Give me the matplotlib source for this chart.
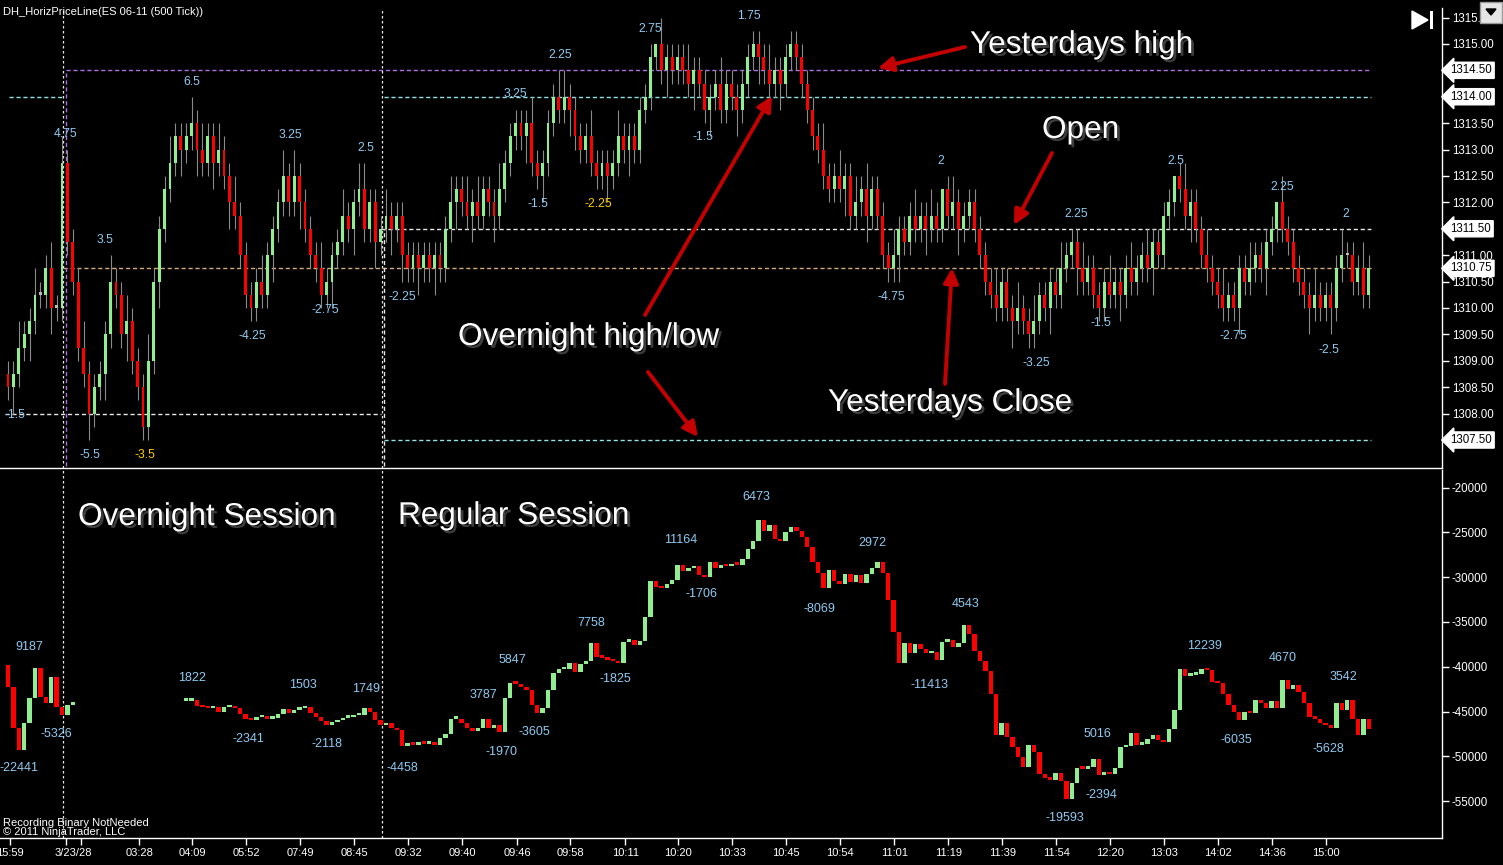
import numpy as np
import matplotlib
matplotlib.use("Agg")
import matplotlib.pyplot as plt
from matplotlib import patheffects
from matplotlib.patches import Polygon, Rectangle

plt.rcParams['font.family'] = ['Liberation Sans', 'DejaVu Sans']

W, H = 1503, 865

# ---------------- price panel: 500 tick bars (open = previous close) ----------------
first_open = 1308.75
closes = [
    1308.5, 1308.75, 1309.25, 1309.5, 1309.75, 1310.25, 1310.25, 1310.75, 1310.0, 1310.0,
    1312.75, 1311.25, 1310.5, 1309.25, 1308.75, 1308.0, 1308.5, 1308.75, 1309.5, 1310.5,
    1310.25, 1309.5, 1309.75, 1309.0, 1308.5, 1307.75, 1309.0, 1310.5, 1311.5, 1312.25,
    1312.75, 1313.25, 1313.0, 1313.25, 1313.5, 1313.0, 1312.75, 1313.25, 1312.75, 1313.0,
    1312.5, 1312.0, 1311.75, 1311.0, 1310.25, 1310.0, 1310.5, 1310.25, 1311.0, 1311.5,
    1312.0, 1312.5, 1312.0, 1312.5, 1312.0, 1311.5, 1311.0, 1310.75, 1310.25, 1310.5,
    1311.0, 1311.25, 1311.75, 1311.5, 1312.0, 1312.25, 1311.5, 1312.0, 1311.25, 1311.5,
    1311.75, 1311.5, 1311.75, 1311.0, 1310.75, 1311.0, 1310.75, 1311.0, 1310.75, 1311.0,
    1310.75, 1311.5, 1312.0, 1312.25, 1312.0, 1311.75, 1312.0, 1311.75, 1312.25, 1312.0,
    1311.75, 1312.25, 1312.75, 1313.25, 1313.5, 1313.25, 1313.5, 1312.75, 1312.5, 1312.75,
    1313.5, 1314.0, 1313.75, 1314.0, 1313.75, 1313.25, 1313.0, 1313.25, 1312.75, 1312.5,
    1312.75, 1312.5, 1312.75, 1313.25, 1313.0, 1313.25, 1313.0, 1313.75, 1314.0, 1314.75,
    1315.0, 1314.5, 1314.75, 1314.5, 1314.75, 1314.5, 1314.25, 1314.5, 1314.25, 1313.75,
    1314.0, 1314.25, 1313.75, 1314.25, 1314.0, 1313.75, 1314.25, 1314.75, 1315.0, 1314.75,
    1314.5, 1314.25, 1314.5, 1314.25, 1314.75, 1315.0, 1314.75, 1314.25, 1313.75, 1313.25,
    1313.0, 1312.5, 1312.25, 1312.5, 1312.25, 1312.5, 1311.75, 1312.0, 1312.25, 1311.75,
    1312.25, 1311.75, 1311.0, 1310.75, 1311.0, 1311.5, 1311.25, 1311.75, 1311.5, 1311.75,
    1311.5, 1311.75, 1311.5, 1312.25, 1311.75, 1312.0, 1311.5, 1311.75, 1312.0, 1311.5,
    1311.0, 1310.5, 1310.25, 1310.0, 1310.5, 1310.0, 1309.75, 1310.0, 1309.75, 1309.5,
    1309.75, 1310.25, 1310.0, 1310.5, 1310.25, 1310.75, 1311.0, 1311.25, 1310.75, 1310.5,
    1310.75, 1310.25, 1310.0, 1310.5, 1310.25, 1310.5, 1310.25, 1310.75, 1310.5, 1310.75,
    1311.0, 1310.75, 1311.25, 1311.0, 1311.75, 1312.0, 1312.5, 1312.25, 1311.75, 1312.0,
    1311.5, 1311.0, 1310.75, 1310.5, 1310.25, 1310.0, 1310.25, 1310.0, 1310.75, 1310.5,
    1310.75, 1311.0, 1310.75, 1311.25, 1311.5, 1312.0, 1311.5, 1311.25, 1310.75, 1310.5,
    1310.25, 1310.0, 1310.25, 1310.0, 1310.25, 1310.0, 1310.75, 1311.0, 1311.0, 1310.5,
    1310.75, 1310.25, 1310.75,
]
# wick beyond body, in ticks (0.25)
up_wick = [
    1, 1, 2, 1, 1, 2, 1, 1, 2, 1,  2, 1, 1, 1, 2, 1, 1, 1, 1, 2,
    1, 1, 2, 1, 1, 1, 2, 1, 1, 1,  2, 1, 1, 1, 2, 1, 2, 1, 1, 2,
    1, 1, 2, 1, 1, 1, 1, 2, 1, 1,  1, 2, 1, 2, 1, 1, 1, 1, 2, 1,
    1, 1, 2, 1, 1, 2, 2, 1, 1, 1,  2, 1, 1, 1, 1, 1, 1, 1, 1, 1,
    1, 1, 2, 1, 1, 2, 1, 2, 1, 1,  1, 2, 1, 1, 1, 1, 1, 2, 1, 1,
    1, 1, 2, 2, 1, 1, 1, 1, 2, 1,  1, 1, 1, 2, 1, 1, 1, 1, 1, 1,
    0, 2, 1, 1, 1, 1, 2, 1, 1, 1,  1, 1, 2, 1, 1, 1, 1, 1, 1, 1,
    1, 2, 1, 1, 1, 1, 1, 1, 1, 1,  1, 2, 1, 1, 2, 1, 1, 2, 1, 2,
    1, 1, 1, 1, 2, 1, 1, 1, 2, 1,  1, 2, 1, 0, 1, 2, 1, 1, 1, 1,
    1, 1, 1, 2, 1, 1, 1, 2, 1, 1,  2, 1, 1, 1, 1, 2, 1, 1, 1, 2,
    1, 1, 1, 1, 2, 1, 1, 1, 2, 1,  1, 2, 1, 1, 1, 1, 0, 1, 2, 1,
    1, 1, 2, 1, 1, 2, 1, 1, 1, 1,  2, 1, 1, 1, 1, 0, 2, 1, 1, 1,
    1, 1, 2, 1, 1, 1, 1, 2, 1, 1,  1, 2, 1,
]
down_wick = [
    1, 2, 1, 1, 2, 1, 1, 1, 2, 1,  1, 1, 1, 1, 1, 2, 1, 1, 2, 1,
    1, 1, 2, 1, 1, 1, 1, 1, 2, 1,  1, 1, 2, 1, 1, 2, 1, 1, 2, 1,
    1, 2, 1, 1, 1, 1, 1, 1, 1, 2,  1, 1, 1, 1, 2, 1, 1, 1, 1, 1,
    2, 1, 1, 1, 2, 1, 1, 1, 2, 1,  1, 2, 1, 2, 1, 1, 2, 1, 1, 2,
    1, 1, 1, 2, 1, 1, 2, 1, 1, 1,  2, 1, 1, 1, 1, 1, 2, 1, 1, 2,
    1, 1, 1, 1, 2, 1, 1, 1, 1, 1,  1, 2, 1, 1, 1, 2, 1, 1, 1, 1,
    1, 1, 2, 1, 1, 1, 1, 2, 1, 1,  2, 1, 1, 1, 1, 2, 1, 1, 1, 2,
    1, 1, 1, 2, 1, 1, 1, 1, 1, 1,  1, 1, 1, 1, 1, 2, 1, 1, 1, 2,
    1, 1, 1, 1, 1, 2, 1, 1, 1, 1,  2, 1, 1, 1, 1, 1, 2, 1, 1, 1,
    1, 1, 1, 1, 1, 1, 2, 1, 1, 1,  1, 1, 1, 2, 1, 1, 1, 1, 2, 1,
    1, 1, 1, 1, 1, 1, 2, 1, 1, 1,  1, 1, 2, 1, 1, 1, 1, 1, 1, 2,
    1, 1, 1, 1, 1, 1, 1, 1, 2, 1,  1, 1, 1, 2, 1, 1, 1, 1, 1, 1,
    1, 2, 1, 1, 1, 2, 1, 1, 1, 1,  1, 1, 1,
]

# ---------------- lower panel: cumulative delta (thousands), gap where no data ----------------
delta_first_open = -39.8
delta = [
    -42.3, -46.8, -49.3, -46.3, -43.5, -40.1, -43.4, -44.0, -41.1, -44.5,
    -45.4, -44.3, -43.9, None, None, None, None, None, None, None,
    None, None, None, None, None, None, None, None, None, None,
    None, None, None, -43.8, -43.7, -44.4, -44.5, -44.6, -44.5, -45.0,
    -44.5, -44.4, -44.6, -45.3, -45.8, -46.0, -45.6, -45.6, -45.8, -45.7,
    -45.3, -44.7, -45.2, -44.8, -44.6, -44.5, -45.2, -45.6, -46.1, -46.5,
    -46.2, -46.0, -45.7, -45.6, -45.4, -45.4, -44.6, -45.0, -45.9, -46.5,
    -46.3, -46.8, -47.1, -48.9, -48.5, -48.7, -48.4, -48.6, -48.5, -48.7,
    -48.0, -47.5, -45.8, -45.8, -46.3, -46.8, -47.2, -46.8, -45.8, -46.8,
    -46.5, -47.3, -43.5, -41.8, -41.9, -42.3, -42.6, -44.3, -45.2, -44.6,
    -42.6, -40.7, -40.3, -40.2, -39.6, -40.6, -39.7, -39.4, -37.4, -38.9,
    -39.0, -39.2, -39.4, -39.6, -37.2, -37.0, -37.6, -37.1, -34.4, -30.4,
    -31.1, -31.2, -30.8, -30.3, -28.6, -29.3, -29.0, -28.7, -29.8, -30.0,
    -28.3, -29.0, -28.6, -28.8, -28.5, -28.6, -28.0, -26.9, -25.9, -23.6,
    -24.8, -24.2, -25.7, -26.0, -25.0, -24.4, -24.8, -25.5, -26.6, -28.3,
    -29.5, -31.2, -29.2, -30.4, -30.7, -29.6, -30.5, -29.8, -30.6, -29.6,
    -29.0, -28.3, -29.5, -32.5, -36.1, -39.6, -37.4, -38.5, -37.5, -38.0,
    -38.5, -38.4, -39.3, -37.2, -37.0, -37.8, -37.3, -35.3, -36.3, -38.2,
    -39.4, -40.5, -43.0, -47.6, -46.3, -47.9, -49.0, -50.1, -51.2, -48.7,
    -49.5, -52.0, -52.4, -52.6, -51.9, -52.8, -54.8, -53.0, -51.3, -51.4,
    -51.2, -50.3, -52.1, -51.8, -52.0, -51.3, -49.0, -48.8, -47.4, -48.7,
    -48.6, -48.1, -47.6, -48.2, -48.4, -46.9, -44.8, -40.3, -41.0, -40.9,
    -40.8, -40.3, -40.4, -41.7, -41.8, -43.0, -44.3, -45.0, -46.0, -45.0,
    -45.2, -43.7, -44.1, -44.6, -43.8, -44.6, -41.5, -42.5, -42.0, -42.8,
    -44.0, -45.6, -45.8, -46.3, -46.5, -46.8, -44.0, -44.8, -43.7, -45.8,
    -47.6, -45.8, -47.0,
]

# swing labels
top_lbl = ['4.75', '-1.5', '-5.5', '-3.5', '3.5', '6.5', '-4.25', '3.25', '-2.75', '2.5',
           '-2.25', '3.25', '-1.5', '2.25', '-2.25', '2.75', '-1.5', '1.75', '-4.75', '2',
           '-3.25', '2.25', '-1.5', '2.5', '-2.75', '2.25', '-2.5', '2']
top_lbl_bar = [10.6, 1.3, 15.2, 25.4, 18.0, 34.1, 45.2, 52.2, 58.7, 66.3,
               73.0, 93.9, 98.1, 102.2, 109.3, 118.9, 128.7, 137.2, 163.5, 172.8,
               190.4, 197.8, 202.4, 216.3, 227.0, 235.9, 244.6, 247.8]
top_lbl_price = [1313.30, 1307.97, 1307.22, 1307.22, 1311.29, 1314.28, 1309.47, 1313.28, 1309.96, 1313.03,
                 1310.21, 1314.05, 1311.97, 1314.79, 1311.97, 1315.28, 1313.24, 1315.53, 1310.21, 1312.78,
                 1308.96, 1311.78, 1309.72, 1312.78, 1309.47, 1312.29, 1309.20, 1311.78]
top_lbl_yellow = [3, 14]

bot_lbl = ['9187', '-22441', '-5326', '1822', '-2341', '1503', '-2118', '1749', '-4458', '3787',
           '-1970', '5847', '-3605', '7758', '-1825', '11164', '-1706', '6473', '-8069', '2972',
           '-11413', '4543', '5016', '-19593', '-2394', '12239', '-6035', '4670', '-5628', '3542']
bot_lbl_bar = [3.9, 2.0, 8.9, 34.1, 44.6, 54.6, 59.1, 66.3, 73.0, 88.0,
               91.3, 93.5, 97.4, 108.0, 112.4, 124.6, 128.5, 138.5, 150.2, 160.0,
               170.7, 177.4, 201.7, 195.7, 202.4, 221.5, 227.4, 236.1, 244.6, 247.4]
bot_lbl_val = [-37794, -51310, -47513, -41257, -48071, -42039, -48630, -42486, -51310, -43156,
               -49523, -39246, -47289, -35113, -41369, -25842, -31874, -21039, -33549, -26177,
               -42039, -32991, -47513, -56895, -54326, -37682, -48183, -39023, -49188, -41146]

# key price levels (tags on the price axis)
tag_prices = [1314.50, 1314.00, 1311.50, 1310.75, 1307.50]
price_ticks = [1308.0, 1308.5, 1309.0, 1309.5, 1310.0, 1310.5, 1311.0, 1311.5,
               1312.0, 1312.5, 1313.0, 1313.5, 1314.0, 1314.5, 1315.0, 1315.5]
delta_ticks = [-55000, -50000, -45000, -40000, -35000, -30000, -25000, -20000]

# time axis: the two session-break ticks share one overlapping label
x_tick_bar = [0.3, 10.7, 13.5, 24.3, 34.1, 44.1, 54.1, 64.1, 74.1, 84.1, 94.3, 104.1, 114.3,
              124.1, 134.1, 144.1, 154.1, 164.1, 174.1, 184.1, 194.1, 204.1, 214.1, 224.1, 234.1, 244.1]
x_tick_lbl = ['15:59', '', '', '03:28', '04:09', '05:52', '07:49', '08:45', '09:32', '09:40',
              '09:46', '09:58', '10:11', '10:20', '10:33', '10:45', '10:54', '11:01', '11:19', '11:39',
              '11:54', '12:20', '13:03', '14:02', '14:36', '15:00']
break_lbl_bar = 12.1
break_lbl = '3/23/28'

GREEN = '#90ee90'
RED = '#ff0000'
LBL = '#8ecbf2'

# ---------------- figure ----------------
fig = plt.figure(figsize=(W / 100, H / 100), dpi=100, facecolor='black')
ax1 = fig.add_axes([0, 1 - 468 / H, 1442 / W, 460 / H], facecolor='black')
ax2 = fig.add_axes([0, 1 - 838 / H, 1442 / W, 368 / H], facecolor='black')

for ax in (ax1, ax2):
    ax.set_xlim(-1.48, 265.56)
    for s in ('top', 'left'):
        ax.spines[s].set_visible(False)
    for s in ('right', 'bottom'):
        ax.spines[s].set_color('white')
        ax.spines[s].set_linewidth(1)
    ax.yaxis.tick_right()
    ax.tick_params(axis='y', colors='white', labelcolor='white', labelsize=8.3, length=5, width=1, pad=2)
ax1.set_ylim(1306.97, 1315.68)
ax2.set_ylim(-59130, -18020)
ax1.set_xticks([])
ax1.set_yticks(price_ticks)
ax1.set_yticklabels(['%.2f' % p for p in price_ticks])
ax2.set_yticks(delta_ticks)
ax2.set_yticklabels([str(v) for v in delta_ticks])
ax2.set_xticks(x_tick_bar)
ax2.set_xticklabels(x_tick_lbl)
ax2.set_xticks([break_lbl_bar], minor=True)
ax2.set_xticklabels([break_lbl], minor=True)
ax2.tick_params(axis='x', which='major', colors='white', labelcolor='white', labelsize=8,
                length=5, width=1, pad=2)
ax2.tick_params(axis='x', which='minor', colors='white', labelcolor='white', labelsize=8,
                length=0, pad=7)

# price bars
c = np.array(closes)
o = np.r_[first_open, c[:-1]]
hi = np.maximum(o, c) + 0.25 * np.array(up_wick)
lo = np.minimum(o, c) - 0.25 * np.array(down_wick)
idx = np.arange(len(c))
cols = np.where(c > o, GREEN, np.where(c < o, RED, '#bbbbbb'))
ax1.vlines(idx, lo, hi, color='#8a8a8a', lw=0.8, zorder=2)
ax1.bar(idx, np.maximum(np.abs(c - o), 0.05), bottom=np.minimum(o, c), width=0.55,
        color=cols, lw=0, zorder=3)

# delta bars
d = np.array(delta, dtype=float) * 1000
d_open = np.r_[delta_first_open * 1000, d[:-1]]
d_open = np.where(np.isnan(d_open), d, d_open)
ok = ~np.isnan(d)
dcols = np.where(d >= d_open, GREEN, RED)
ax2.bar(idx[ok], np.maximum(np.abs(d - d_open)[ok], 260), bottom=np.minimum(d, d_open)[ok],
        width=0.8, color=dcols[ok], lw=0, zorder=3)

# horizontal price levels
dash = (0, (3, 2))
ax1.hlines(1314.5, 10.7, 252.4, color='#b070e0', lw=1, linestyles=dash, zorder=1)
ax1.hlines(1314.0, 0.2, 10.2, color='#8fe3e3', lw=1, linestyles=dash, zorder=1)
ax1.hlines(1314.0, 69.6, 252.4, color='#8fe3e3', lw=1, linestyles=dash, zorder=1)
ax1.hlines(1307.5, 69.6, 252.4, color='#8fe3e3', lw=1, linestyles=dash, zorder=1)
ax1.hlines(1308.0, -0.5, 69.1, color='#e8e8e8', lw=1, linestyles=dash, zorder=1)
ax1.hlines(1311.5, 69.1, 252.4, color='#e8e8e8', lw=1, linestyles=dash, zorder=1)
ax1.hlines(1310.75, 10.2, 252.4, color='#d2aa78', lw=1, linestyles=dash, zorder=1)
ax1.vlines(10.7, 1307.0, 1314.5, color='#b070e0', lw=1, linestyles=dash, zorder=1)
ax1.vlines(69.6, 1307.0, 1311.5, color='#e8e8e8', lw=1, linestyles=dash, zorder=1)
for ax in (ax1, ax2):
    for xb in (10.2, 69.2):
        ax.axvline(xb, color='#e8e8e8', lw=0.9, linestyle=(0, (2, 2)), zorder=1)

# price tags
for p in tag_prices:
    ax1.annotate('%.2f' % p, xy=(1, p), xycoords=('axes fraction', 'data'),
                 xytext=(6, 0), textcoords='offset points', ha='left', va='center',
                 fontsize=8.3, color='black', annotation_clip=False,
                 bbox=dict(boxstyle='larrow,pad=0.18', fc='white', ec='white'))

# swing labels
for k, (t, b, p) in enumerate(zip(top_lbl, top_lbl_bar, top_lbl_price)):
    ax1.text(b, p, t, color='#ffcc00' if k in top_lbl_yellow else LBL,
             fontsize=8.7, ha='center', va='center', zorder=5)
for t, b, v in zip(bot_lbl, bot_lbl_bar, bot_lbl_val):
    ax2.text(b, v, t, color=LBL, fontsize=9, ha='center', va='center', zorder=5)

# annotations
shadow = [patheffects.SimplePatchShadow(offset=(2, -2), shadow_rgbFace='#444444', alpha=0.9),
          patheffects.Normal()]
notes = [('Yesterdays high', 970, 45), ('Open', 1042, 130), ('Overnight high/low', 458, 337),
         ('Yesterdays Close', 828, 403), ('Overnight Session', 78, 517), ('Regular Session', 398, 516)]
for t, x, y in notes:
    fig.text(x / W, 1 - y / H, t, color='white', fontsize=22.7, ha='left', va='center',
             path_effects=shadow, zorder=10)

arrows = [((965, 47), (878, 68)), ((1052, 153), (1014, 225)), ((645, 315), (772, 96)),
          ((648, 372), (698, 437)), ((945, 384), (952, 268))]
for (x0, y0), (x1, y1) in arrows:
    ax1.annotate('', xy=(x1, H - y1), xytext=(x0, H - y0), xycoords='figure pixels',
                 textcoords='figure pixels', annotation_clip=False,
                 arrowprops=dict(arrowstyle='-|>', color='#c40000', lw=2.8, mutation_scale=22,
                                 shrinkA=0, shrinkB=0))

# header / footer texts
fig.text(3 / W, 1 - 12 / H, 'DH_HorizPriceLine(ES 06-11 (500 Tick))', color='white',
         fontsize=8, ha='left', va='center')
fig.text(3 / W, 1 - 823 / H, 'Recording Binary NotNeeded', color='white', fontsize=8, ha='left', va='center')
fig.text(3 / W, 1 - 832 / H, '\u00a9 2011 NinjaTrader, LLC', color='white', fontsize=8, ha='left', va='center')

# top right controls
def fp(x, y):
    return (x / W, 1 - y / H)

fig.add_artist(Polygon([fp(1412, 11), fp(1412, 29), fp(1428, 20)], closed=True,
                       transform=fig.transFigure, fc='white', ec='white'))
fig.add_artist(Rectangle(fp(1430, 29), 3 / W, 18 / H, transform=fig.transFigure, fc='white', ec='none'))
fig.add_artist(Rectangle(fp(1480, 23), 22 / W, 21 / H, transform=fig.transFigure,
                         fc='#e6e6e6', ec='#9a9a9a', lw=1))
fig.add_artist(Polygon([fp(1486, 9), fp(1496, 9), fp(1491, 15)], closed=True,
                       transform=fig.transFigure, fc='black', ec='black'))

fig.savefig('out.png', dpi=100, facecolor='black')
